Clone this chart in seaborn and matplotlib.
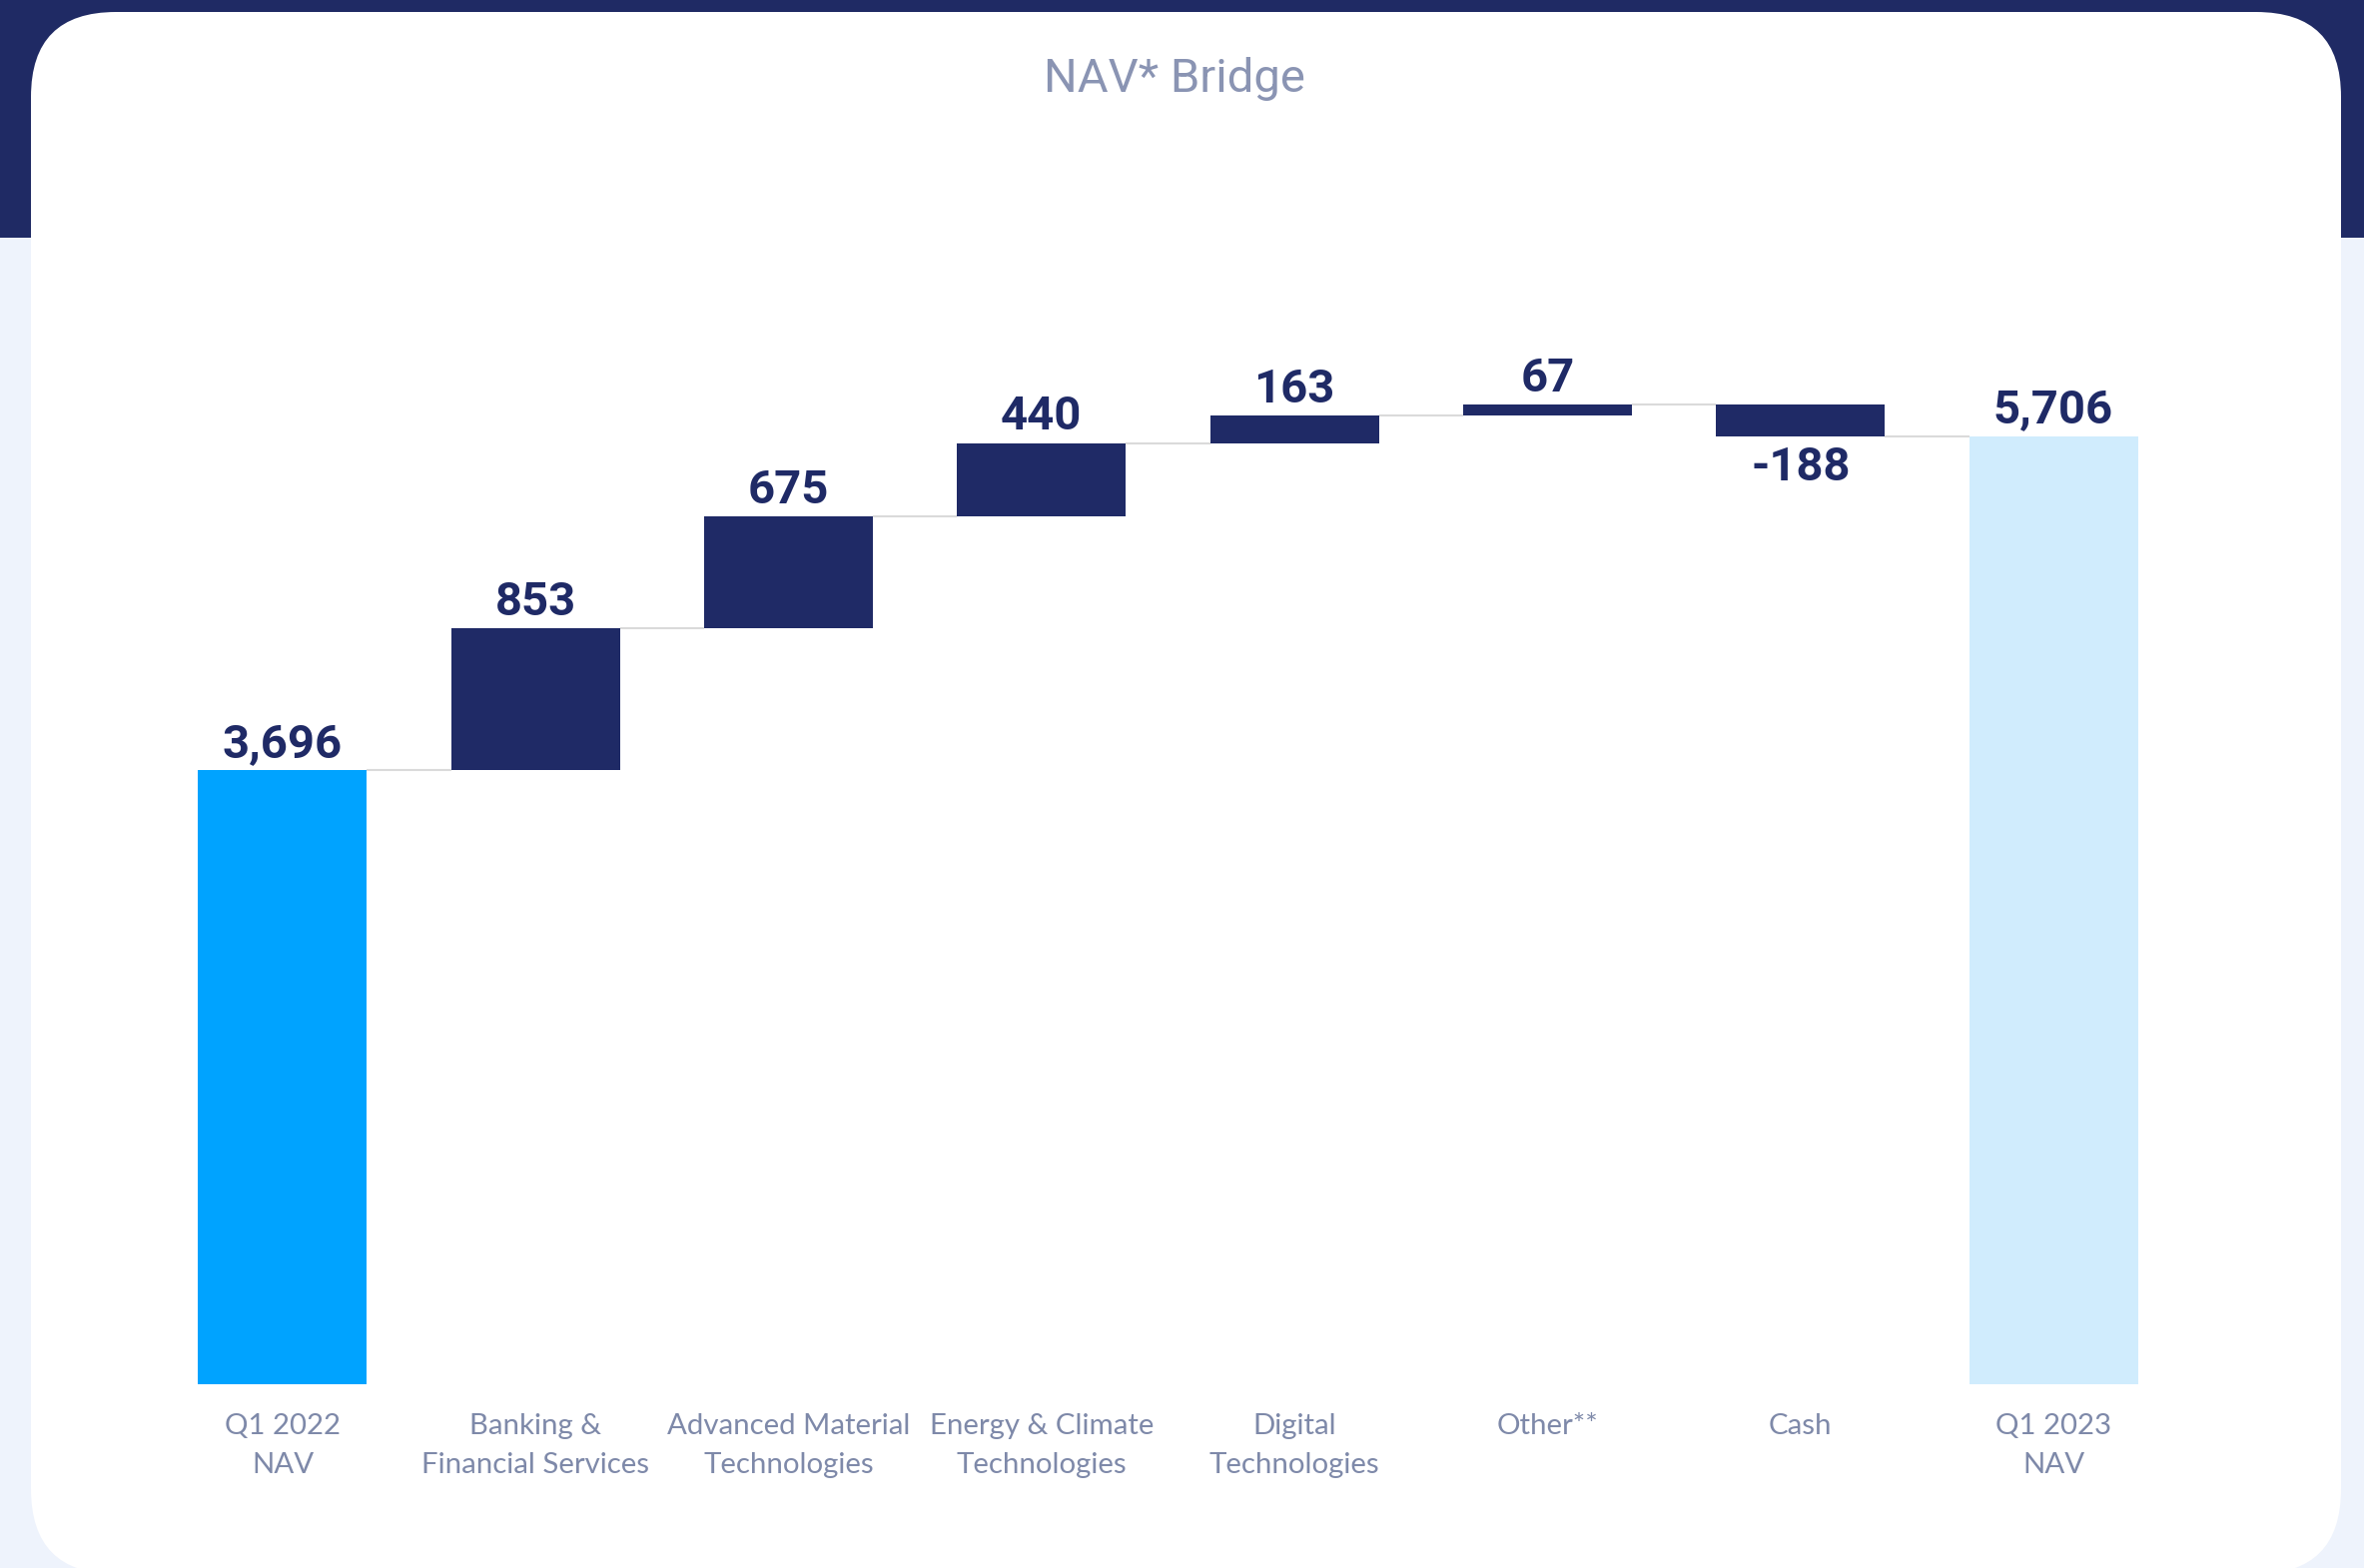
import matplotlib
matplotlib.use("Agg")
import matplotlib.pyplot as plt
from matplotlib.patches import Rectangle, FancyBboxPatch
import seaborn as sns
import pandas as pd

# ---- data -------------------------------------------------------------
categories = [
    "Q1 2022\nNAV",
    "Banking &\nFinancial Services",
    "Advanced Material\nTechnologies",
    "Energy & Climate\nTechnologies",
    "Digital\nTechnologies",
    "Other**",
    "Cash",
    "Q1 2023\nNAV",
]
values = [3696, 853, 675, 440, 163, 67, -188, 5706]
value_labels = ["3,696", "853", "675", "440", "163", "67", "-188", "5,706"]
bar_kind = ["start", "delta", "delta", "delta", "delta", "delta", "delta", "end"]

# ---- styling ----------------------------------------------------------
NAVY = "#1F2A66"
START_BLUE = "#00A3FF"
END_BLUE = "#D0ECFD"
PAGE_BG = "#EEF3FC"
LABEL_GREY = "#7E89A9"
TITLE_GREY = "#8A94B3"
CONNECTOR = "#DADADA"
kind_colors = {"start": START_BLUE, "delta": NAVY, "end": END_BLUE}

sns.set_theme(style="white")
plt.rcParams["font.family"] = ["Lato", "DejaVu Sans"]

W, H, DPI = 2367, 1570, 100
fig = plt.figure(figsize=(W / DPI, H / DPI), dpi=DPI)
fig.patch.set_facecolor(PAGE_BG)

# page header band and rounded white card
fig.add_artist(Rectangle((0, (H - 238) / H), 1, 238 / H, transform=fig.transFigure,
                         facecolor="#1F2A64", edgecolor="none", zorder=0))
card = FancyBboxPatch((0.31, -0.06), 23.13, 15.64,
                      boxstyle="round,pad=0,rounding_size=0.85",
                      transform=fig.dpi_scale_trans, facecolor="white",
                      edgecolor="none", zorder=1)
fig.add_artist(card)

fig.text(1176 / W, 1 - 92 / H, "NAV* Bridge", ha="center", va="baseline",
         fontsize=34, color=TITLE_GREY, family=["Roboto", "DejaVu Sans"],
         fontweight="normal", zorder=3)

# ---- waterfall geometry -----------------------------------------------
bottoms, heights, levels = [], [], []
running = 0
for v, k in zip(values, bar_kind):
    if k == "delta":
        start, end = running, running + v
        bottoms.append(min(start, end))
        heights.append(abs(v))
        running = end
    else:
        bottoms.append(0)
        heights.append(v)
        running = v
    levels.append(running)

df = pd.DataFrame({"category": categories, "height": heights})
palette = [kind_colors[k] for k in bar_kind]

# axes placement (pixels from top-left of the figure)
x_left_px, x_right_px = 156.3, 2182.7
y_bottom_px, y_top_px = 1386, 200
px_per_unit = 0.1664
ax = fig.add_axes([x_left_px / W, (H - y_bottom_px) / H,
                   (x_right_px - x_left_px) / W, (y_bottom_px - y_top_px) / H])
ax.set_zorder(2)
ax.patch.set_alpha(0)

sns.barplot(data=df, x="category", y="height", hue="category", palette=palette,
            dodge=False, width=0.667, saturation=1, legend=False,
            linewidth=0, ax=ax)

bars = sorted(ax.patches, key=lambda p: p.get_x())
for p, b in zip(bars, bottoms):
    p.set_y(b)

# connectors between consecutive bars
for i in range(len(bars) - 1):
    x0 = bars[i].get_x() + bars[i].get_width()
    x1 = bars[i + 1].get_x()
    ax.plot([x0, x1], [levels[i], levels[i]], color=CONNECTOR, lw=1.5,
            solid_capstyle="butt", zorder=1)

# value labels
label_font = dict(fontsize=34, fontweight="bold", color=NAVY,
                  family=["Roboto", "DejaVu Sans"])
for i, (p, v, txt) in enumerate(zip(bars, values, value_labels)):
    xc = p.get_x() + p.get_width() / 2
    if v < 0:
        ax.annotate(txt, (xc, bottoms[i]), xytext=(0, -32), textcoords="offset points",
                    ha="center", va="baseline", **label_font)
    else:
        ax.annotate(txt, (xc, bottoms[i] + heights[i]), xytext=(0, 9.5),
                    textcoords="offset points", ha="center", va="baseline",
                    **label_font)

ax.set_xlim(-0.5, len(categories) - 0.5)
ax.set_ylim(0, (y_bottom_px - y_top_px) / px_per_unit)
ax.set_xlabel("")
ax.set_ylabel("")
ax.set_yticks([])
ax.set_xticks(range(len(categories)))
ax.set_xticklabels(categories, fontsize=21.2, color=LABEL_GREY, linespacing=1.62)
ax.tick_params(axis="x", length=0, pad=21)
sns.despine(ax=ax, left=True, bottom=True)

fig.savefig("out.png", dpi=DPI, facecolor=fig.get_facecolor())
